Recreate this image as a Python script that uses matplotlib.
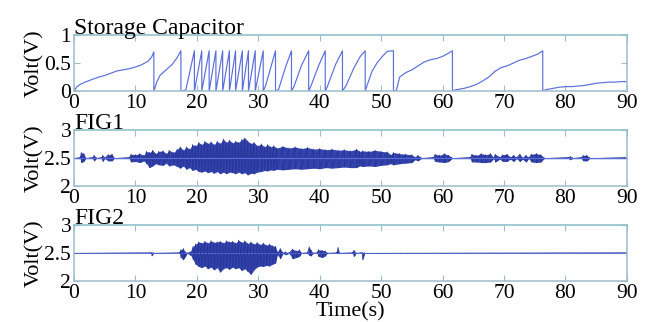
import matplotlib
matplotlib.use("Agg")
import matplotlib.pyplot as plt

plt.rcParams['font.family'] = ['Liberation Serif', 'DejaVu Serif']

#storage capacitor voltage (sawtooth), one line per charge cycle
cap_t = [0, 0.5, 1, 2, 3, 4, 5, 6, 7, 8, 9, 10, 11, 12, 12.6, 13.0,
         13.0, 13.5, 14, 15, 16, 16.8, 17.4,
         17.4, 18.2, 19.6,
         19.6, 20.8,
         20.8, 22.0,
         22.0, 23.1,
         23.1, 24.2,
         24.2, 25.3,
         25.3, 26.3,
         26.3, 27.4,
         27.4, 28.4,
         28.4, 29.5,
         29.5, 30.8,
         30.8, 31.2, 32.8,
         32.8, 33.3, 34.5, 35.4,
         35.4, 35.8, 37.0, 38.2,
         38.2, 38.6, 39.8, 40.9,
         40.9, 41.3, 42.6, 43.7,
         43.7, 44.3, 45.5, 46.6, 47.4,
         47.4, 47.7, 48.5, 49.3, 50.2, 51.0, 52.0,
         52.0, 52.5, 53.0, 54, 55, 56, 57, 58, 59, 60, 61, 61.6,
         61.6, 62.5, 63.5, 64.5, 65.5, 66.5, 67.5, 68.5, 69.5, 70.5, 71.5, 72.5, 73.5, 74.5, 75.5, 76.3,
         76.3, 77, 78, 79, 80, 81, 82, 83, 84, 85, 86, 87, 88, 89, 90]
cap_v = [0, 0.08, 0.12, 0.17, 0.21, 0.25, 0.28, 0.32, 0.36, 0.38, 0.40, 0.43, 0.47, 0.53, 0.60, 0.70,
         0, 0.17, 0.28, 0.38, 0.48, 0.60, 0.72,
         0, 0.02, 0.72,
         0, 0.72,
         0, 0.72,
         0, 0.72,
         0, 0.72,
         0, 0.72,
         0, 0.72,
         0, 0.72,
         0, 0.72,
         0, 0.72,
         0, 0.72,
         0, 0.10, 0.72,
         0, 0.03, 0.45, 0.72,
         0, 0.08, 0.45, 0.72,
         0, 0.10, 0.45, 0.72,
         0, 0.10, 0.48, 0.72,
         0, 0.10, 0.40, 0.62, 0.72,
         0, 0.10, 0.35, 0.50, 0.62, 0.71, 0.72,
         0, 0.02, 0.25, 0.33, 0.38, 0.45, 0.52, 0.56, 0.58, 0.62, 0.68, 0.72,
         0.01, 0.03, 0.05, 0.08, 0.12, 0.18, 0.25, 0.35, 0.42, 0.45, 0.50, 0.55, 0.58, 0.62, 0.66, 0.72,
         0.01, 0.03, 0.05, 0.07, 0.08, 0.08, 0.09, 0.10, 0.12, 0.14, 0.15, 0.16, 0.16, 0.17, 0.17]

#FIG1 signal envelope (upper / lower voltage), rows of 10
fig1_t = [0, 1.0, 1.2, 1.6, 1.9, 3.0, 3.3, 3.6, 4.5, 4.7,
          5.0, 5.6, 6.2, 6.5, 9.0, 9.3, 10.0, 10.7, 11.4, 11.8,
          12.3, 12.8, 13.3, 13.8, 14.5, 15.0, 15.5, 16.2, 16.8, 17.3,
          17.8, 18.3, 18.8, 19.3, 19.8, 20.3, 20.8, 21.3, 21.8, 22.3,
          22.8, 23.3, 23.8, 24.3, 24.8, 25.3, 25.8, 26.3, 26.8, 27.3,
          27.8, 28.3, 28.8, 29.3, 29.8, 30.5, 31.0, 31.5, 32.0, 32.5,
          33.0, 34.0, 35.0, 36.0, 37.0, 38.0, 39.0, 40.0, 41.0, 42.0,
          43.0, 44.0, 45.0, 46.0, 46.5, 47.0, 48.0, 49.0, 50.0, 51.0,
          51.5, 52.0, 53.0, 54.0, 55.0, 55.5, 56.0, 56.5, 58.5, 58.8,
          59.5, 60.3, 61.0, 61.5, 64.5, 64.8, 65.5, 66.3, 67.0, 67.8,
          68.3, 68.6, 69.3, 69.8, 70.5, 71.0, 71.6, 72.0, 72.6, 73.0,
          73.6, 74.0, 74.5, 75.3, 76.0, 76.5, 80.5, 80.8, 81.1, 82.6,
          82.9, 83.5, 83.9, 90.0]
fig1_hi = [2.51, 2.51, 2.60, 2.58, 2.51, 2.51, 2.55, 2.51, 2.51, 2.55,
           2.51, 2.56, 2.57, 2.51, 2.51, 2.57, 2.56, 2.58, 2.55, 2.62,
           2.60, 2.64, 2.58, 2.62, 2.63, 2.58, 2.64, 2.60, 2.66, 2.70,
           2.64, 2.70, 2.66, 2.74, 2.72, 2.78, 2.74, 2.80, 2.76, 2.79,
           2.74, 2.80, 2.76, 2.84, 2.78, 2.82, 2.77, 2.80, 2.78, 2.83,
           2.86, 2.80, 2.76, 2.78, 2.72, 2.75, 2.70, 2.74, 2.70, 2.72,
           2.68, 2.71, 2.68, 2.70, 2.67, 2.69, 2.66, 2.67, 2.65, 2.66,
           2.64, 2.65, 2.63, 2.66, 2.62, 2.63, 2.62, 2.64, 2.62, 2.61,
           2.56, 2.60, 2.58, 2.57, 2.56, 2.52, 2.55, 2.51, 2.51, 2.57,
           2.55, 2.58, 2.55, 2.51, 2.51, 2.57, 2.55, 2.58, 2.56, 2.58,
           2.51, 2.57, 2.52, 2.56, 2.57, 2.52, 2.55, 2.51, 2.57, 2.51,
           2.55, 2.51, 2.57, 2.58, 2.56, 2.51, 2.51, 2.53, 2.51, 2.51,
           2.55, 2.55, 2.51, 2.51]
fig1_lo = [2.49, 2.49, 2.42, 2.44, 2.49, 2.49, 2.45, 2.49, 2.49, 2.44,
           2.49, 2.45, 2.45, 2.49, 2.49, 2.43, 2.44, 2.42, 2.45, 2.40,
           2.33, 2.36, 2.40, 2.38, 2.37, 2.41, 2.36, 2.38, 2.35, 2.32,
           2.36, 2.30, 2.33, 2.28, 2.30, 2.26, 2.25, 2.27, 2.24, 2.26,
           2.23, 2.26, 2.22, 2.25, 2.22, 2.25, 2.24, 2.22, 2.25, 2.22,
           2.24, 2.20, 2.23, 2.22, 2.25, 2.26, 2.28, 2.27, 2.29, 2.28,
           2.30, 2.29, 2.30, 2.31, 2.30, 2.31, 2.32, 2.31, 2.33, 2.32,
           2.33, 2.34, 2.33, 2.33, 2.36, 2.35, 2.36, 2.35, 2.37, 2.38,
           2.40, 2.38, 2.40, 2.41, 2.42, 2.47, 2.45, 2.49, 2.49, 2.44,
           2.43, 2.42, 2.44, 2.49, 2.49, 2.43, 2.43, 2.42, 2.42, 2.43,
           2.49, 2.43, 2.48, 2.44, 2.44, 2.48, 2.44, 2.49, 2.44, 2.48,
           2.43, 2.49, 2.43, 2.42, 2.43, 2.49, 2.49, 2.47, 2.49, 2.49,
           2.45, 2.45, 2.49, 2.49]

#FIG2 signal envelope (upper / lower voltage), rows of 10
fig2_t = [0, 12.5, 12.7, 12.9, 17.2, 17.4, 17.8, 18.1, 18.4, 19.0,
          19.4, 19.8, 20.3, 20.8, 21.3, 21.8, 22.3, 22.8, 23.3, 23.8,
          24.3, 24.8, 25.3, 25.8, 26.3, 26.8, 27.3, 27.8, 28.3, 28.8,
          29.3, 29.8, 30.3, 30.8, 31.3, 31.8, 32.3, 32.8, 33.1, 33.6,
          34.0, 34.5, 35.0, 35.6, 36.2, 36.7, 37.0, 38.0, 38.3, 38.6,
          38.9, 39.6, 39.8, 40.4, 40.9, 41.2, 42.8, 43.0, 43.2, 45.3,
          45.6, 45.9, 46.8, 47.0, 47.3, 90.0]
fig2_hi = [2.505, 2.505, 2.51, 2.505, 2.505, 2.56, 2.58, 2.52, 2.505, 2.52,
           2.62, 2.66, 2.70, 2.68, 2.71, 2.68, 2.72, 2.69, 2.70, 2.71,
           2.68, 2.72, 2.70, 2.71, 2.68, 2.73, 2.69, 2.72, 2.67, 2.70,
           2.66, 2.69, 2.65, 2.68, 2.64, 2.66, 2.63, 2.62, 2.52, 2.58,
           2.51, 2.52, 2.505, 2.57, 2.54, 2.56, 2.505, 2.505, 2.61, 2.55,
           2.505, 2.505, 2.56, 2.55, 2.54, 2.505, 2.505, 2.60, 2.505, 2.505,
           2.55, 2.505, 2.505, 2.51, 2.505, 2.505]
fig2_lo = [2.495, 2.495, 2.45, 2.495, 2.495, 2.42, 2.38, 2.43, 2.495, 2.46,
           2.38, 2.30, 2.26, 2.24, 2.27, 2.22, 2.25, 2.20, 2.24, 2.16,
           2.22, 2.24, 2.21, 2.25, 2.22, 2.24, 2.19, 2.22, 2.17, 2.12,
           2.20, 2.25, 2.27, 2.26, 2.28, 2.27, 2.30, 2.32, 2.47, 2.40,
           2.49, 2.47, 2.495, 2.40, 2.42, 2.44, 2.495, 2.495, 2.46, 2.45,
           2.495, 2.495, 2.44, 2.42, 2.45, 2.495, 2.495, 2.49, 2.495, 2.495,
           2.44, 2.495, 2.495, 2.38, 2.495, 2.495]

x_ticks = [0, 10, 20, 30, 40, 50, 60, 70, 80, 90]

spine_col = "#9dbdcc"
line_col = "#5a6edc"
noise_col = "#283596"
fill_col = "#3444ae"

fig = plt.figure(figsize=(6.52, 3.22), dpi=100)
left, width, height = 0.1135, 0.848, 0.174
ax1 = fig.add_axes([left, 0.717, width, height])
ax2 = fig.add_axes([left, 0.422, width, height])
ax3 = fig.add_axes([left, 0.127, width, height])

ax1.plot(cap_t, cap_v, color=line_col, lw=0.85)
ax1.set_ylim(0, 1)
ax1.set_yticks([0, 0.5, 1])
ax1.set_yticklabels(["0", "0.5", "1"])


def draw_signal(ax, t, hi, lo, base_ls):
    #envelope fill plus a hi/lo zigzag through the same points for a noisy look
    ax.fill_between(t, lo, hi, color=fill_col, lw=0)
    zx, zy = [], []
    for ti, h, l in zip(t, hi, lo):
        zx += [ti, ti]
        zy += [h, l]
    ax.plot(zx, zy, color=noise_col, lw=0.6)
    ax.plot([0, 90], [2.5, 2.5], color=line_col, lw=0.8, ls=base_ls)
    ax.set_ylim(2, 3)
    ax.set_yticks([2, 2.5, 3])
    ax.set_yticklabels(["2", "2.5", "3"])


draw_signal(ax2, fig1_t, fig1_hi, fig1_lo, "-")
draw_signal(ax3, fig2_t, fig2_hi, fig2_lo, (0, (2, 1)))

titles = ["Storage Capacitor", "FIG1", "FIG2"]
for ax, ttl in zip((ax1, ax2, ax3), titles):
    ax.set_xlim(0, 90)
    ax.set_xticks(x_ticks)
    ax.tick_params(direction="in", top=True, right=True, length=4, width=0.8,
                   color=spine_col, labelsize=15.5, pad=2)
    for s in ax.spines.values():
        s.set_color(spine_col)
        s.set_linewidth(1.1)
    ax.spines["top"].set_color("#86bcc6")
    ax.set_ylabel("Volt(V)", fontsize=16, labelpad=0)
    ax.set_title(ttl, loc="left", fontsize=17, pad=1)

fig.text(0.538, 0.032, "Time(s)", ha="center", va="center", fontsize=16)

fig.savefig("out.png", dpi=100)
